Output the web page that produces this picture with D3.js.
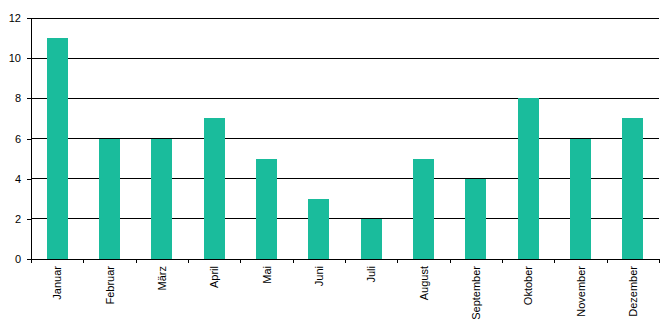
<!DOCTYPE html>
<html>
<head>
<meta charset="utf-8">
<script src="https://cdn.jsdelivr.net/npm/d3@7"></script>
<style>
  body { margin: 0; background: #fff; }
  svg text { font-family: "Liberation Sans", Arial, sans-serif; }
</style>
</head>
<body>
<div id="vis"></div>
<script>
const FRAME_WIDTH = 670;
const FRAME_HEIGHT = 330;
const MARGINS = {left: 31, right: 11, top: 18, bottom: 71};
const VIS_WIDTH = FRAME_WIDTH - MARGINS.left - MARGINS.right;
const VIS_HEIGHT = FRAME_HEIGHT - MARGINS.top - MARGINS.bottom;

// data
const months = ["Januar", "Februar", "März", "April", "Mai", "Juni", "Juli",
                "August", "September", "Oktober", "November", "Dezember"];
const values = [11, 6, 6, 7, 5, 3, 2, 5, 4, 8, 6, 7];
const yTicks = [0, 2, 4, 6, 8, 10, 12];

const svg = d3.select("#vis")
  .append("svg")
    .attr("width", FRAME_WIDTH)
    .attr("height", FRAME_HEIGHT)
    .attr("shape-rendering", "crispEdges");

const g = svg.append("g")
  .attr("transform", "translate(" + MARGINS.left + "," + MARGINS.top + ")");

const X_SCALE = d3.scaleBand()
  .domain(months)
  .range([0, VIS_WIDTH])
  .padding(0);

const Y_SCALE = d3.scaleLinear()
  .domain([0, 12])
  .range([VIS_HEIGHT, 0]);

// horizontal gridlines
g.selectAll(".grid")
  .data(yTicks.filter(d => d > 0))
  .enter()
  .append("line")
    .attr("x1", 0)
    .attr("x2", VIS_WIDTH)
    .attr("y1", d => Math.floor(Y_SCALE(d)) + 0.5)
    .attr("y2", d => Math.floor(Y_SCALE(d)) + 0.5)
    .attr("stroke", "#000")
    .attr("stroke-width", 1);

// bars
const barW = X_SCALE.bandwidth() * 0.4;
g.selectAll(".bar")
  .data(values)
  .enter()
  .append("rect")
    .attr("x", (d, i) => X_SCALE(months[i]) + (X_SCALE.bandwidth() - barW) / 2)
    .attr("y", d => Y_SCALE(d))
    .attr("width", barW)
    .attr("height", d => VIS_HEIGHT - Y_SCALE(d))
    .attr("fill", "#1abc9c");

// y axis
const yAxis = g.append("g")
  .call(d3.axisLeft(Y_SCALE).tickValues(yTicks).tickSize(4).tickPadding(6));
yAxis.select(".domain").attr("stroke", "#000");
yAxis.selectAll("text").attr("font-size", "11px").attr("fill", "#000");

// x axis: ticks on band boundaries
const xAxis = g.append("g")
  .attr("transform", "translate(0," + VIS_HEIGHT + ")");
xAxis.append("line")
  .attr("x1", 0).attr("x2", VIS_WIDTH)
  .attr("y1", 0.5).attr("y2", 0.5)
  .attr("stroke", "#000");
xAxis.selectAll(".xtick")
  .data(months.concat(["end"]))
  .enter()
  .append("line")
    .attr("x1", (d, i) => Math.round(i * X_SCALE.step()) + 0.5)
    .attr("x2", (d, i) => Math.round(i * X_SCALE.step()) + 0.5)
    .attr("y1", 0)
    .attr("y2", 4)
    .attr("stroke", "#000");
xAxis.selectAll(".xlabel")
  .data(months)
  .enter()
  .append("text")
    .attr("transform", d => "translate(" + (X_SCALE(d) + X_SCALE.bandwidth() / 2 + 4) + ",7) rotate(-90)")
    .attr("text-anchor", "end")
    .attr("font-size", "11px")
    .attr("fill", "#000")
    .text(d => d);
</script>
</body>
</html>
